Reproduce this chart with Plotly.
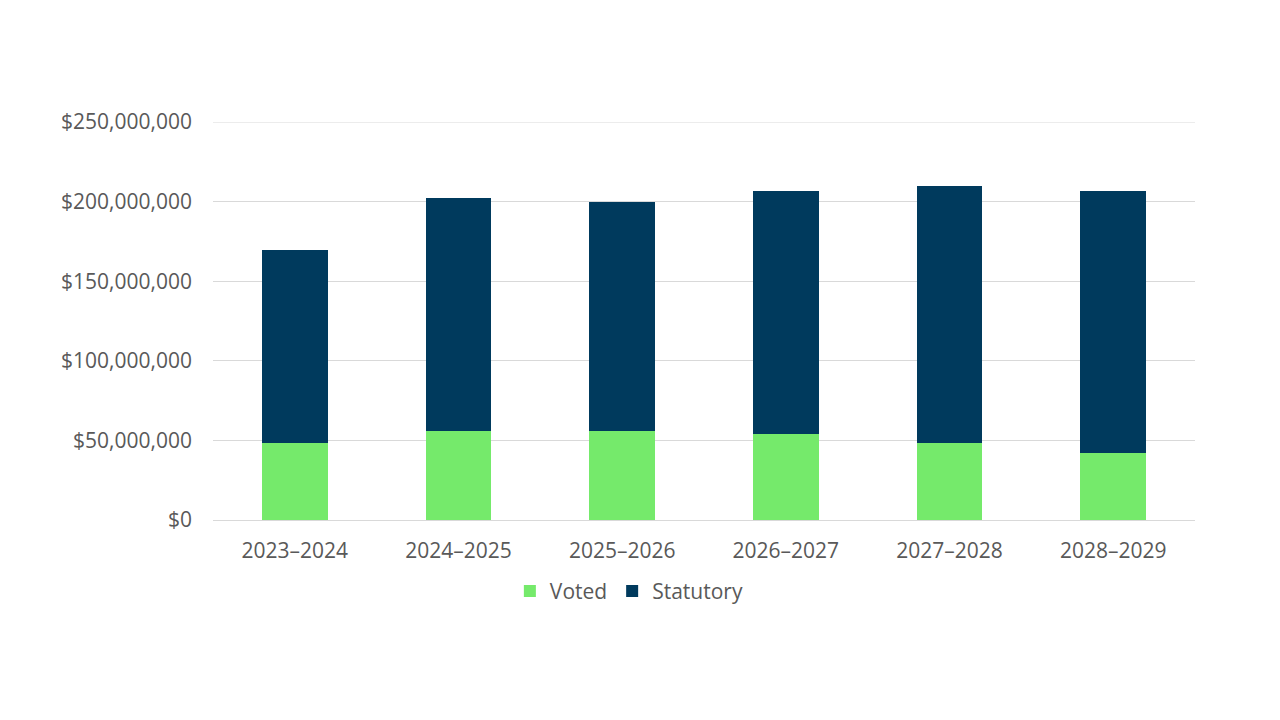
import plotly.graph_objects as go

years = ["2023–2024", "2024–2025", "2025–2026", "2026–2027", "2027–2028", "2028–2029"]
voted = [48.4e6, 56.0e6, 56.0e6, 54.1e6, 48.4e6, 42.1e6]
statutory = [121.3e6, 146.4e6, 143.5e6, 152.7e6, 161.6e6, 164.7e6]
y_ticks = [0, 50e6, 100e6, 150e6, 200e6, 250e6]
y_labels = ["$0", "$50,000,000", "$100,000,000", "$150,000,000", "$200,000,000", "$250,000,000"]

fig = go.Figure()
fig.add_trace(go.Bar(x=years, y=voted, name="Voted", marker_color="#75EA6B", marker_line_width=0))
fig.add_trace(go.Bar(x=years, y=statutory, name="Statutory", marker_color="#003A5D", marker_line_width=0))

font = dict(family="Open Sans", size=21, color="#595959")
fig.update_layout(
    barmode="stack",
    bargap=0.6,
    width=1280, height=720,
    margin=dict(l=205, r=93, t=114, b=208),
    paper_bgcolor="white", plot_bgcolor="white",
    font=font,
    showlegend=True,
    legend=dict(orientation="h", x=0.424, xanchor="center", y=-0.128, yanchor="top",
                font=dict(family="Open Sans", size=21, color="#595959"), itemwidth=30,
                traceorder="normal"),
)
fig.add_shape(type="line", xref="paper", yref="y", x0=0, x1=1, y0=y_ticks[-1], y1=y_ticks[-1],
              line=dict(color="#D9D9D9", width=1), layer="below")
fig.update_yaxes(range=[0, 250e6], tickvals=y_ticks, ticktext=y_labels, showgrid=True,
                 gridcolor="#D9D9D9", gridwidth=1, zeroline=False, showline=False,
                 ticks="", ticklabelstandoff=20)
fig.update_xaxes(showline=True, linecolor="#D9D9D9", linewidth=1, ticks="", showgrid=False,
                 ticklabelstandoff=12)

fig.write_html("out.html")
